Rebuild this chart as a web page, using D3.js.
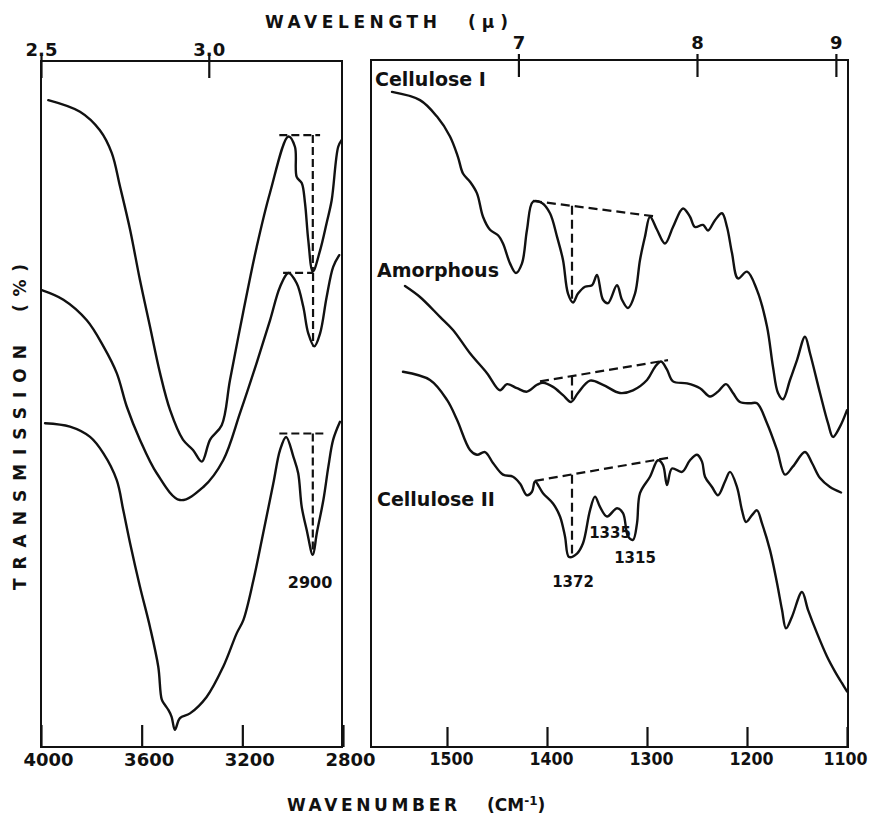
<!DOCTYPE html>
<html>
<head>
<meta charset="utf-8">
<script src="https://cdn.jsdelivr.net/npm/d3@7/dist/d3.min.js"></script>
<style>
  html, body { margin: 0; padding: 0; background: #fff; }
  svg { display: block; }
</style>
</head>
<body>
<svg id="chart" width="875" height="817"></svg>
<script>
// ---------- DATA (wavenumber cm-1, transmission in arbitrary %) ----------
// Left panel (4000-2800 cm-1)
const cell1Left = [[3971,94.3],[3845,92.6],[3766,89.9],[3719,86.6],[3686,81.7],[3646,75.4],[3607,68.1],[3567,61.3],[3527,54.5],[3487,49.1],[3436,44.8],[3396,43.3],[3361,41.6],[3328,44.8],[3282,46.9],[3249,53.5],[3197,63.3],[3143,72.9],[3090,80.8],[3017,89.0],[2991,87.5],[2984,83.1],[2964,82.2],[2951,79.3],[2938,73.9],[2920,69.3],[2891,72.4],[2865,76.4],[2845,79.7],[2819,87.5],[2805,88.5]];
const amorphLeft = [[3997,66.6],[3911,65.2],[3818,62.2],[3752,58.4],[3699,54.5],[3659,49.6],[3607,44.8],[3540,39.9],[3448,36.0],[3355,37.9],[3276,41.8],[3209,48.7],[3143,56.0],[3090,62.2],[3050,67.1],[3017,69.1],[2984,67.6],[2958,64.2],[2938,60.3],[2914,58.4],[2891,60.3],[2865,65.6],[2839,70.0],[2815,71.7]];
const cell2Left = [[3984,47.2],[3885,46.7],[3805,45.2],[3752,42.8],[3699,38.9],[3673,34.5],[3646,29.7],[3607,23.4],[3567,17.5],[3534,11.7],[3520,6.9],[3507,6.1],[3494,5.4],[3481,4.4],[3468,2.5],[3448,4.2],[3408,4.9],[3342,7.3],[3276,11.7],[3222,16.6],[3196,18.5],[3156,24.3],[3117,31.2],[3077,38.4],[3050,43.3],[3026,45.2],[2997,42.3],[2978,39.9],[2964,35.0],[2944,31.6],[2920,28.0],[2904,31.2],[2878,36.0],[2858,40.9],[2839,44.8],[2812,47.4]];
// Right panel (1576-1100 cm-1)
const cell1Right = [[1555,95.5],[1527,94.3],[1510,91.9],[1497,89.0],[1489,86.0],[1484,83.6],[1477,82.4],[1470,80.7],[1464,77.3],[1457,75.4],[1449,74.6],[1444,73.4],[1437,70.5],[1431,69.1],[1425,70.5],[1420,75.4],[1414,79.5],[1405,79.3],[1397,77.8],[1390,74.4],[1384,71.0],[1379,66.1],[1374,64.8],[1369,66.1],[1362,67.1],[1355,67.3],[1350,68.8],[1344,65.2],[1339,64.7],[1330,67.3],[1325,65.2],[1319,64.0],[1312,66.1],[1307,71.0],[1302,74.4],[1297,77.3],[1290,75.4],[1282,73.4],[1274,75.8],[1264,78.5],[1257,77.3],[1252,75.8],[1244,76.1],[1239,75.3],[1232,76.8],[1225,77.8],[1220,75.8],[1215,72.0],[1209,68.3],[1200,69.3],[1190,66.6],[1180,61.3],[1174,55.4],[1169,51.6],[1164,50.7],[1157,53.5],[1150,56.4],[1142,59.8],[1137,57.4],[1127,51.6],[1119,47.2],[1114,45.2],[1107,46.7],[1100,49.1]];
const amorphRight = [[1542,67.2],[1527,65.6],[1507,62.7],[1494,60.8],[1477,57.4],[1460,54.5],[1447,52.0],[1440,52.9],[1430,52.3],[1420,51.8],[1410,52.8],[1404,53.1],[1394,52.5],[1384,51.3],[1376,50.3],[1369,51.6],[1357,53.4],[1344,52.8],[1327,51.6],[1314,52.0],[1300,53.5],[1292,55.4],[1286,56.2],[1280,55.0],[1274,53.3],[1260,53.0],[1247,52.3],[1237,51.1],[1229,51.8],[1221,52.9],[1214,51.6],[1207,50.3],[1197,50.1],[1190,50.1],[1180,47.2],[1170,43.3],[1162,39.7],[1154,40.9],[1142,43.0],[1135,41.4],[1127,39.2],[1117,37.9],[1106,37.1]];
const cell2Right = [[1544,54.7],[1517,53.5],[1500,50.6],[1490,47.7],[1477,43.3],[1470,42.6],[1462,43.0],[1454,41.4],[1444,39.7],[1434,39.4],[1427,38.4],[1420,36.7],[1415,37.2],[1412,38.7],[1404,37.0],[1394,35.5],[1387,33.6],[1382,30.7],[1378,27.7],[1370,28.2],[1364,29.7],[1357,34.5],[1352,36.5],[1347,35.0],[1340,33.6],[1330,34.8],[1324,34.1],[1319,30.7],[1314,30.2],[1310,32.6],[1307,37.0],[1297,39.4],[1289,41.8],[1284,41.1],[1280,38.2],[1275,40.6],[1265,40.1],[1257,41.8],[1250,42.6],[1245,41.6],[1242,39.4],[1235,37.9],[1229,36.7],[1222,38.7],[1217,40.1],[1210,37.9],[1205,34.5],[1201,32.8],[1195,33.8],[1190,34.5],[1185,32.6],[1177,28.7],[1170,23.9],[1165,20.0],[1161,17.3],[1155,19.0],[1145,22.6],[1139,20.0],[1130,16.6],[1120,13.2],[1112,11.0],[1105,9.3],[1100,8.1]];

// Baseline construction (dashed) lines: [[wn,T],[wn,T]]
const dashesLeft = [
  [[3053,89.2],[2891,89.2]], [[2920,89.2],[2920,69.3]],
  [[3038,69.1],[2919,69.1]], [[2919,69.1],[2919,58.4]],
  [[3053,45.7],[2878,45.7]], [[2920,45.7],[2920,28.0]]
];
const dashesRight = [
  [[1414,79.6],[1289,77.3]], [[1375,78.9],[1375,65.2]],
  [[1407,53.3],[1279,56.4]], [[1375,54.0],[1375,50.4]],
  [[1412,38.8],[1277,42.2]], [[1375,39.7],[1375,28.2]]
];

// Tick values
const wnTicksLeft = [4000, 3600, 3200, 2800];
const wnTicksRight = [1500, 1400, 1300, 1200, 1100];
const wlTicksLeft = [2.5, 3.0];
const wlTicksRight = [7, 8, 9];

// Text annotations
const seriesLabels = [
  {text: "Cellulose I", wn: 1572, t: 96.4},
  {text: "Amorphous", wn: 1570, t: 68.5},
  {text: "Cellulose II", wn: 1570, t: 35.1}
];
const peakLabelsRight = [
  {text: "1372", wn: 1374, t: 23.3},
  {text: "1335", wn: 1337, t: 30.5},
  {text: "1315", wn: 1312, t: 26.8}
];
const peakLabelsLeft = [{text: "2900", wn: 2931, t: 23.2}];

// ---------- DRAWING ----------
const svg = d3.select("#chart");
const yS = d3.scaleLinear().domain([0, 100]).range([747, 61]);
const xL = d3.scaleLinear().domain([4000, 2800]).range([41, 343]);
const xR = d3.scaleLinear().domain([1576, 1100]).range([371, 847]);

const ink = "#111";
const boldFont = "'DejaVu Sans', sans-serif";

// panel boxes
svg.append("rect").attr("x", 41).attr("y", 61).attr("width", 301).attr("height", 686)
  .attr("fill", "none").attr("stroke", ink).attr("stroke-width", 2);
svg.append("rect").attr("x", 371).attr("y", 60).attr("width", 477).attr("height", 687)
  .attr("fill", "none").attr("stroke", ink).attr("stroke-width", 2);

function styleAxis(g, size) {
  g.select(".domain").remove();
  g.selectAll("line").attr("stroke", ink).attr("stroke-width", 2.2);
  g.selectAll("text").attr("fill", ink)
    .style("font-family", boldFont).style("font-weight", "bold").style("font-size", size + "px");
}

// bottom axes (ticks pointing inward)
const bl = svg.append("g").attr("transform", "translate(0,747)")
  .call(d3.axisBottom(xL).tickValues(wnTicksLeft).tickSizeInner(-22).tickSizeOuter(0).tickPadding(6).tickFormat(d3.format("d")));
styleAxis(bl, 18); bl.selectAll("text").attr("dx", 7);
const br = svg.append("g").attr("transform", "translate(0,747)")
  .call(d3.axisBottom(xR).tickValues(wnTicksRight).tickSizeInner(-20).tickSizeOuter(0).tickPadding(6).tickFormat(d3.format("d")));
styleAxis(br, 17);
br.selectAll("text").attr("dx", d => d === 1100 ? -2 : 4).attr("textLength", 44).attr("lengthAdjust", "spacingAndGlyphs");

// top axes (wavelength, microns)
const tl = svg.append("g").attr("transform", "translate(0,61)")
  .call(d3.axisTop(xL).tickValues(wlTicksLeft.map(l => 1e4 / l)).tickSizeInner(-17).tickSizeOuter(0).tickPadding(5)
    .tickFormat(d => (1e4 / d).toFixed(1)));
styleAxis(tl, 18);
const tr = svg.append("g").attr("transform", "translate(0,60)")
  .call(d3.axisTop(xR).tickValues(wlTicksRight.map(l => 1e4 / l)).tickSizeInner(-17).tickSizeOuter(0).tickPadding(11)
    .tickFormat(d => Math.round(1e4 / d)));
styleAxis(tr, 18);
// small upward stubs of top ticks
[[xL, wlTicksLeft, 61], [xR, wlTicksRight, 60]].forEach(([sc, vals, y0]) => {
  const g = svg.append("g").attr("transform", `translate(0,${y0})`)
    .call(d3.axisTop(sc).tickValues(vals.map(l => 1e4 / l)).tickSizeInner(6).tickSizeOuter(0).tickFormat(""));
  styleAxis(g, 18);
});

// curves
const lineL = d3.line().x(d => xL(d[0])).y(d => yS(d[1])).curve(d3.curveCatmullRom.alpha(0.5));
const lineR = d3.line().x(d => xR(d[0])).y(d => yS(d[1])).curve(d3.curveCatmullRom.alpha(0.5));
[cell1Left, amorphLeft, cell2Left].forEach(s =>
  svg.append("path").attr("d", lineL(s)).attr("fill", "none").attr("stroke", ink)
    .attr("stroke-width", 2.4).attr("stroke-linejoin", "round").attr("stroke-linecap", "round"));
[cell1Right, amorphRight, cell2Right].forEach(s =>
  svg.append("path").attr("d", lineR(s)).attr("fill", "none").attr("stroke", ink)
    .attr("stroke-width", 2.4).attr("stroke-linejoin", "round").attr("stroke-linecap", "round"));

// dashed baselines
const straightL = d3.line().x(d => xL(d[0])).y(d => yS(d[1]));
const straightR = d3.line().x(d => xR(d[0])).y(d => yS(d[1]));
dashesLeft.forEach(s => svg.append("path").attr("d", straightL(s)).attr("fill", "none")
  .attr("stroke", ink).attr("stroke-width", 2.2).attr("stroke-dasharray", "8,4"));
dashesRight.forEach(s => svg.append("path").attr("d", straightR(s)).attr("fill", "none")
  .attr("stroke", ink).attr("stroke-width", 2.2).attr("stroke-dasharray", "9,5"));

// series labels
svg.selectAll(".slab").data(seriesLabels).enter().append("text")
  .attr("x", d => xR(d.wn)).attr("y", d => yS(d.t)).text(d => d.text)
  .attr("fill", ink).style("font-family", boldFont).style("font-weight", "bold").style("font-size", "19px");

// peak labels
svg.selectAll(".plabR").data(peakLabelsRight).enter().append("text")
  .attr("x", d => xR(d.wn)).attr("y", d => yS(d.t)).attr("text-anchor", "middle").text(d => d.text)
  .attr("fill", ink).style("font-family", boldFont).style("font-weight", "bold").style("font-size", "15px");
svg.selectAll(".plabL").data(peakLabelsLeft).enter().append("text")
  .attr("x", d => xL(d.wn)).attr("y", d => yS(d.t)).attr("text-anchor", "middle").text(d => d.text)
  .attr("fill", ink).style("font-family", boldFont).style("font-weight", "bold").style("font-size", "16px");

// axis titles
function title(x, y, txt, len, size, rot) {
  const t = svg.append("text").attr("fill", ink)
    .style("font-family", boldFont).style("font-weight", "bold").style("font-size", size + "px")
    .attr("textLength", len).attr("lengthAdjust", "spacing");
  if (rot) t.attr("transform", `translate(${x},${y}) rotate(-90)`);
  else t.attr("x", x).attr("y", y);
  t.text(txt);
  return t;
}
title(265, 28, "WAVELENGTH", 172, 17);
title(468, 28, "( μ )", 40, 17);
title(287, 811, "WAVENUMBER", 170, 17);
const cm = svg.append("text").attr("x", 487).attr("y", 811).attr("fill", ink)
  .style("font-family", boldFont).style("font-weight", "bold").style("font-size", "17px");
cm.append("tspan").text("(CM");
cm.append("tspan").attr("dy", -6).style("font-size", "12px").text("-1");
cm.append("tspan").attr("dy", 6).text(")");
title(26, 590, "TRANSMISSION", 245, 17, true);
title(26, 312, "(%)", 48, 17, true);
</script>
</body>
</html>
